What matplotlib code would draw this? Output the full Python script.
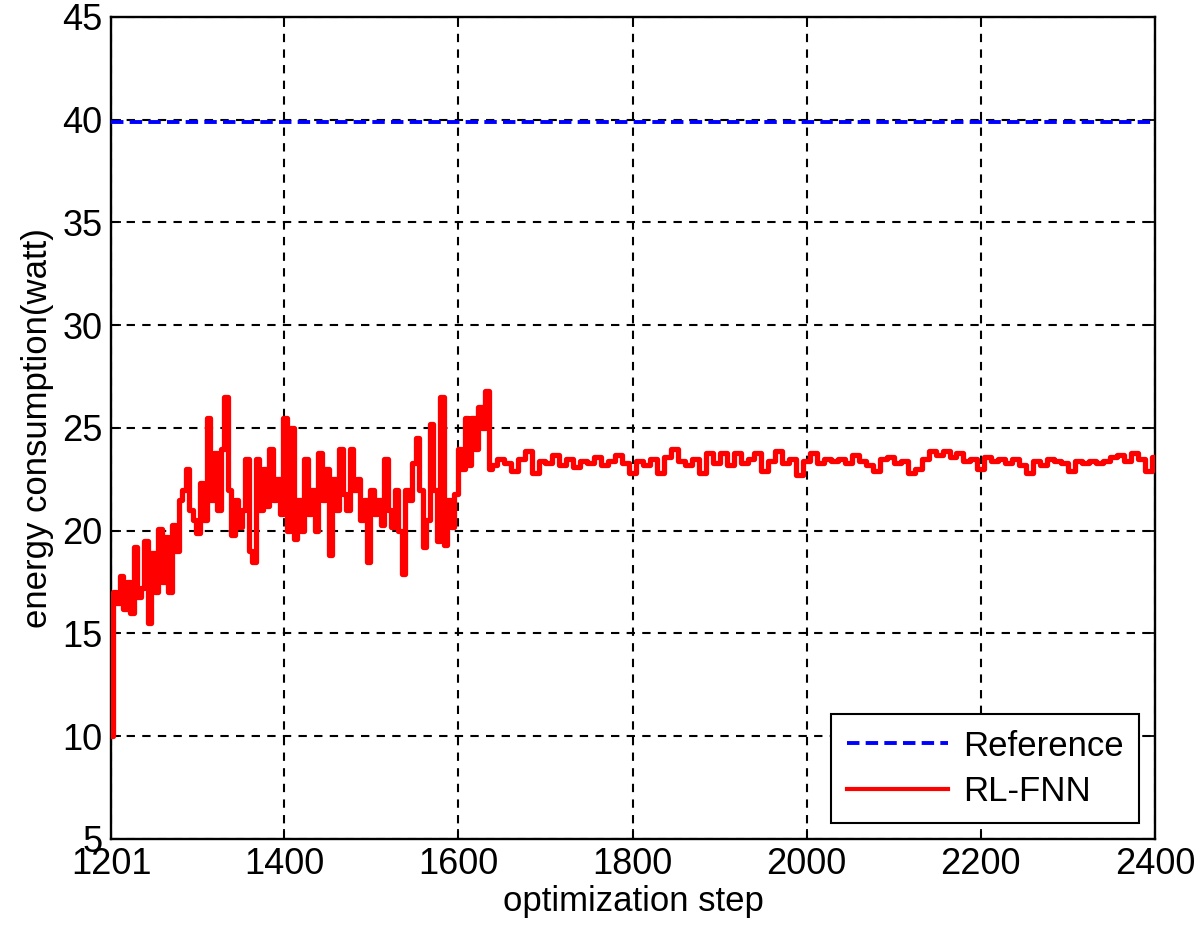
## Energy consumption of RL-FNN against the reference

import numpy as np
import matplotlib.pyplot as plt

plt.rcParams['font.family'] = ['Liberation Sans', 'DejaVu Sans']

### Data

# first part, one value every 4 optimization steps (1201 .. 1637)
steps_early = np.arange(1201, 1640, 4)
energy_early = [10.0, 17.0, 16.5, 17.8, 16.2, 17.5, 16.0, 19.2, 16.8, 17.2,
                19.5, 15.5, 18.9, 17.0, 20.1, 17.5, 19.7, 17.0, 20.3, 19.0,
                21.5, 22.0, 23.0, 21.0, 20.5, 19.9, 22.3, 20.5, 25.5, 21.5,
                23.8, 21.0, 24.0, 26.5, 22.0, 19.8, 21.5, 20.2, 21.0, 23.5,
                19.0, 18.5, 23.5, 21.0, 23.0, 21.2, 24.0, 21.5, 22.5, 20.8,
                25.5, 20.0, 25.0, 19.6, 21.5, 20.0, 23.5, 20.8, 22.0, 20.0,
                23.8, 21.5, 23.0, 18.8, 22.5, 21.0, 24.0, 21.8, 21.0, 24.0,
                22.0, 22.5, 20.5, 21.5, 18.5, 22.0, 20.8, 21.5, 20.3, 23.5,
                21.0, 20.2, 22.0, 20.0, 17.9, 22.0, 21.5, 23.3, 24.5, 22.0,
                19.2, 20.5, 25.2, 22.0, 19.5, 26.5, 19.3, 21.5, 20.2, 21.8,
                24.0, 23.0, 25.5, 23.2, 25.5, 24.0, 26.0, 25.0, 26.8, 23.0]

# settled part, one value every 8 optimization steps (1640 .. 2400)
steps_late = np.arange(1640, 2401, 8)
energy_late = [23.2, 23.5, 23.3, 22.9, 23.5, 23.9, 22.8, 23.4, 23.3, 23.7,
               23.2, 23.5, 23.1, 23.4, 23.3, 23.6, 23.2, 23.4, 23.7, 23.3,
               22.8, 23.4, 23.2, 23.5, 22.8, 23.6, 24.0, 23.4, 23.2, 23.5,
               22.8, 23.8, 23.3, 23.8, 23.2, 23.8, 23.3, 23.5, 23.8, 22.9,
               23.4, 23.9, 23.3, 23.5, 22.7, 23.4, 23.8, 23.3, 23.5, 23.4,
               23.5, 23.3, 23.7, 23.4, 23.2, 22.9, 23.5, 23.6, 23.3, 23.4,
               22.8, 23.0, 23.5, 23.9, 23.7, 23.9, 23.6, 23.8, 23.4, 23.5,
               23.0, 23.6, 23.4, 23.5, 23.3, 23.5, 23.2, 22.8, 23.4, 23.2,
               23.5, 23.4, 23.3, 22.9, 23.4, 23.3, 23.4, 23.3, 23.4, 23.6,
               23.7, 23.4, 23.8, 23.5, 22.9, 23.6]

reference_level = 39.9

x_ticks = [1201, 1400, 1600, 1800, 2000, 2200, 2400]
y_ticks = [5, 10, 15, 20, 25, 30, 35, 40, 45]

steps = np.concatenate([steps_early, steps_late])
energy = np.array(energy_early + energy_late)

### Plot

fig = plt.figure(figsize=(12, 9.39), dpi=100)
ax = fig.add_axes([0.0925, 0.1065, 0.870, 0.8754])

ax.plot([x_ticks[0], x_ticks[-1]], [reference_level, reference_level],
        color='#0000ff', linewidth=2.8, linestyle=(0, (3.2, 1.6)),
        label='Reference', zorder=3)
ax.plot(steps, energy, color='#ff0000', linewidth=3.8, drawstyle='steps-mid',
        label='RL-FNN', zorder=3)

ax.set_xlim(1201, 2400)
ax.set_ylim(5, 45)
ax.set_xticks(x_ticks)
ax.set_yticks(y_ticks)

ax.grid(True, color='black', linestyle=(0, (4, 3.5)), linewidth=1.5)
ax.tick_params(direction='in', length=7, width=1.3, labelsize=26,
               top=True, right=True, pad=6)
for sp in ax.spines.values():
    sp.set_linewidth(1.7)

ax.set_xlabel('optimization step', fontsize=25, labelpad=2)
ax.set_ylabel('energy consumption(watt)', fontsize=25, labelpad=6)

leg = ax.legend(loc='lower right', fontsize=25, fancybox=False,
                edgecolor='black', framealpha=1, handlelength=2.9,
                handletextpad=0.45, borderaxespad=0.45, borderpad=0.45,
                labelspacing=0.35)
leg.get_frame().set_linewidth(1.5)
leg.get_lines()[1].set_linewidth(3.0)

plt.savefig('out.png', dpi=100)
